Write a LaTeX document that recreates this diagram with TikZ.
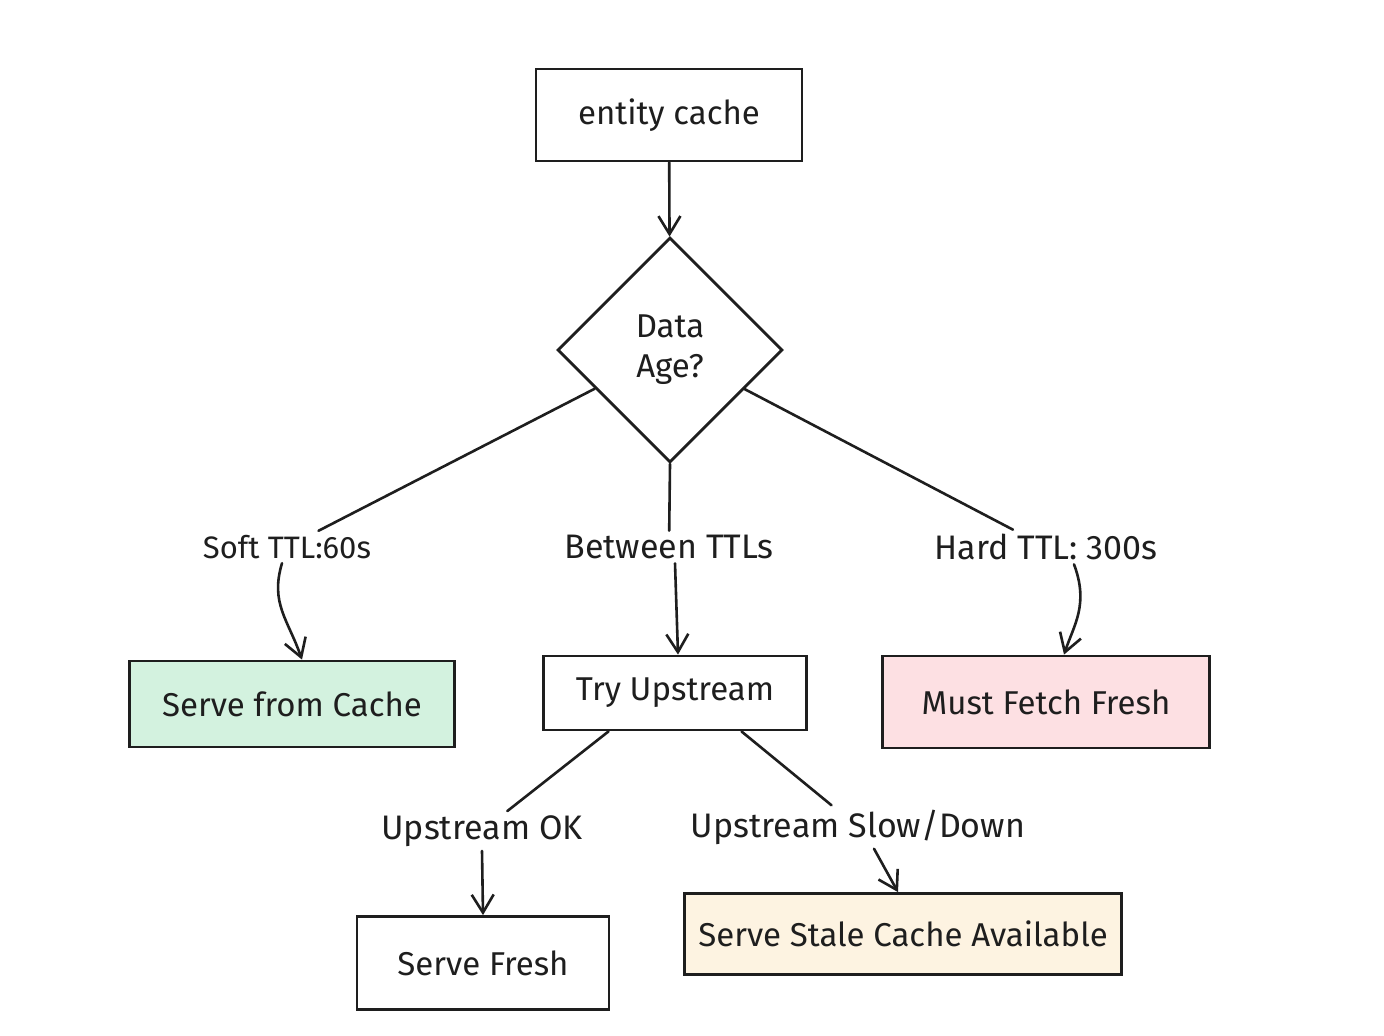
\documentclass[tikz,border=0pt]{standalone}
\usepackage{fontspec}
\setmainfont{Fira Sans}
\usetikzlibrary{shapes.geometric,arrows.meta,calc}
\definecolor{ink}{HTML}{1E1E1E}
\definecolor{greenfill}{HTML}{D3F2DF}
\definecolor{pinkfill}{HTML}{FDE0E3}
\definecolor{creamfill}{HTML}{FDF3E1}
\begin{document}
\begin{tikzpicture}[x=0.5pt,y=-0.5pt,
  box/.style={draw=ink,line width=1.4pt,rectangle,inner sep=0pt,text=ink,font=\fontsize{16.5}{19}\selectfont},
  dia/.style={draw=ink,line width=1.4pt,diamond,aspect=1,inner sep=0pt,minimum size=112.5pt,text=ink,align=center,font=\fontsize{16.5}{20}\selectfont},
  lbl/.style={fill=white,inner sep=2pt,text=ink,font=\fontsize{17}{19}\selectfont},
  conn/.style={line width=1.3pt,draw=ink,line cap=round},
  arr/.style={conn,-{Straight Barb[length=9pt,width=11pt,line width=1.3pt]}},
]
\useasboundingbox[fill=white] (0,0) rectangle (1384,1036);

% nodes
\node[box,minimum width=133pt,minimum height=46pt] (ec) at (669,115) {entity cache};
\node[dia] (d) at (670,350) {Data\\Age?};
\node[box,fill=greenfill,minimum width=162.5pt,minimum height=43pt] (sc) at (292,704) {Serve from Cache};
\node[box,minimum width=131.5pt,minimum height=37pt] (tu) at (675,693) {Try Upstream};
\node[box,fill=pinkfill,minimum width=163.5pt,minimum height=46pt] (mf) at (1046,702) {Must Fetch Fresh};
\node[box,minimum width=126pt,minimum height=46.5pt] (sf) at (483,963) {Serve Fresh};
\node[box,fill=creamfill,minimum width=218.5pt,minimum height=40.5pt] (ss) at (903,934) {Serve Stale Cache Available};

% labels
\node[lbl,font=\fontsize{15.5}{18}\selectfont] (lsoft) at (287,547) {Soft TTL:60s};
\node[lbl] (lbet) at (669,547) {Between TTLs};
\node[lbl] (lhard) at (1046,547) {Hard TTL: 300s};
\node[lbl] (lok) at (482,831) {Upstream OK};
\node[lbl] (lslow) at (858,827) {Upstream Slow/Down};

% connectors
\draw[arr] (ec) -- (d);

\draw[conn] (d) -- (lsoft);
\draw[arr] ($(lsoft.south)+(-5,0)$) .. controls +(-12,40) and +(-14,-40) .. ($(sc.north)+(10,0)$);

\draw[conn] (d.south) -- (lbet);
\draw[arr] ($(lbet.south)+(6,0)$) -- ($(tu.north)+(3,0)$);

\draw[conn] (d) -- (lhard);
\draw[arr] ($(lhard.south)+(28,0)$) .. controls +(15,40) and +(10,-30) .. ($(mf.north)+(18,0)$);

\draw[conn] ($(tu.south)!0.5!(tu.south west)$) -- (lok);
\draw[arr] (lok.south) -- (sf.north);

\draw[conn] ($(tu.south)!0.5!(tu.south east)$) -- (lslow);
\draw[arr] ($(lslow.south)+(16,0)$) -- ($(ss.north)-(5,0)$);
\end{tikzpicture}
\end{document}
